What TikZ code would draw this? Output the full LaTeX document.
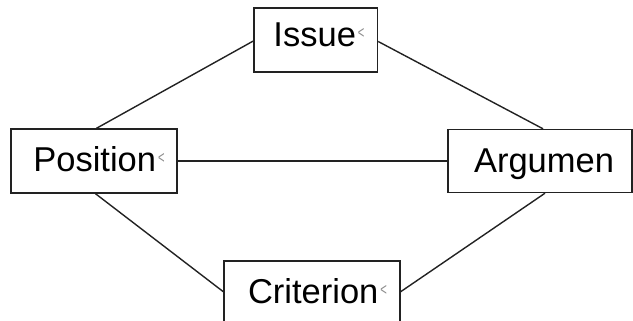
\documentclass[tikz,border=0pt]{standalone}
\usepackage{fontspec}
\setmainfont{Liberation Sans}
\usetikzlibrary{calc}
\definecolor{edge}{HTML}{222222}
\definecolor{tickgray}{HTML}{8C8C8C}
% small grey chevron set after a label
\newcommand{\tickmark}{\hspace{2pt}{\fontsize{15}{15}\selectfont\color{tickgray}\raisebox{8pt}{\scalebox{0.75}[1.15]{<}}}}
% label moved right by #1/2 and up by #2 inside its box
\newcommand{\boxtext}[3]{\hspace*{#1}\raisebox{#2}{#3}}
\begin{document}
\begin{tikzpicture}[x=1pt,y=-1pt,
  box/.style={draw=edge, line width=1.4pt, fill=white, inner sep=0pt,
    minimum height=64pt, text height=25pt, text depth=0pt,
    font=\fontsize{34.5}{40}\selectfont},
  link/.style={draw=edge, line width=1.4pt}]
\useasboundingbox (0,0) rectangle (633,321);
\clip (0,0) rectangle (633,321);

\node[box, minimum width=123.5pt] (issue) at (315.75,40) {\boxtext{6.5pt}{5.8pt}{Issue\tickmark}};
\node[box, minimum width=166pt] (position) at (94,161) {\boxtext{10pt}{2.2pt}{Position\tickmark}};
\node[box, minimum width=184pt, minimum height=63pt] (argumen) at (540,161) {\boxtext{8pt}{1.3pt}{Argumen}};
\node[box, minimum width=176pt] (criterion) at (312,293) {\boxtext{11pt}{2.2pt}{Criterion\tickmark}};

\draw[link] ($(issue.west)+(0,1)$) -- ($(position.north)+(2.5,0)$);
\draw[link] ($(issue.east)+(0,1.5)$) -- ($(argumen.north)+(3,0)$);
\draw[link] (position.east) -- (argumen.west);
\draw[link] ($(position.south)+(1.5,0)$) -- ($(criterion.west)+(0,-1.3)$);
\draw[link] ($(argumen.south)+(5,0)$) -- ($(criterion.east)+(0,-1.3)$);
\end{tikzpicture}
\end{document}
